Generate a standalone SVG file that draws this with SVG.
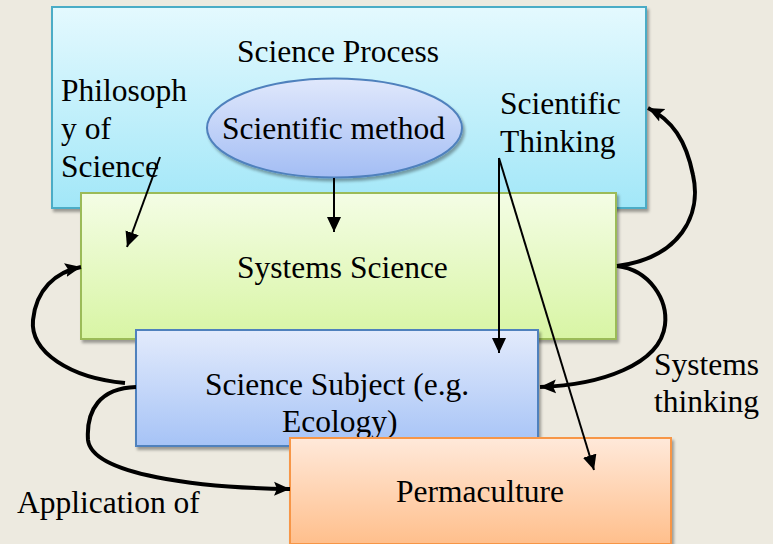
<svg xmlns="http://www.w3.org/2000/svg" width="773" height="544" viewBox="0 0 773 544">
  <defs>
    <linearGradient id="gProcess" x1="0" y1="0" x2="0" y2="1">
      <stop offset="0" stop-color="#E4F9FE"/>
      <stop offset="1" stop-color="#A2E7F8"/>
    </linearGradient>
    <linearGradient id="gMethod" x1="0" y1="0" x2="0" y2="1">
      <stop offset="0" stop-color="#E0E8FC"/>
      <stop offset="1" stop-color="#A3BDF4"/>
    </linearGradient>
    <linearGradient id="gSystems" x1="0" y1="0" x2="0" y2="1">
      <stop offset="0" stop-color="#F4FDE5"/>
      <stop offset="1" stop-color="#D8F5A4"/>
    </linearGradient>
    <linearGradient id="gSubject" x1="0" y1="0" x2="0" y2="1">
      <stop offset="0" stop-color="#E3EBFC"/>
      <stop offset="1" stop-color="#A6C3F6"/>
    </linearGradient>
    <linearGradient id="gPerma" x1="0" y1="0" x2="0" y2="1">
      <stop offset="0" stop-color="#FFE9DA"/>
      <stop offset="1" stop-color="#FFBF8C"/>
    </linearGradient>
    <filter id="shadow" x="-5%" y="-5%" width="115%" height="120%">
      <feGaussianBlur in="SourceAlpha" stdDeviation="1.5"/>
      <feOffset dx="2" dy="3" result="o"/>
      <feComponentTransfer><feFuncA type="linear" slope="0.35"/></feComponentTransfer>
      <feMerge><feMergeNode/><feMergeNode in="SourceGraphic"/></feMerge>
    </filter>
    <marker id="thin" markerUnits="userSpaceOnUse" markerWidth="16" markerHeight="16" viewBox="0 0 16 16" refX="15" refY="8" orient="auto">
      <path d="M0,1 L15,8 L0,15 Z" fill="#000"/>
    </marker>
    <marker id="thick" markerUnits="userSpaceOnUse" markerWidth="18" markerHeight="18" viewBox="0 0 18 18" refX="16" refY="9" orient="auto">
      <path d="M0,2 L16,9 L0,16 L3,9 Z" fill="#000"/>
    </marker>
  </defs>
  <style>
    text { font-family: 'Liberation Serif', 'DejaVu Serif', 'Times New Roman', serif; font-size: 31.5px; fill: #000; }
    .thin { fill: none; stroke: #000; stroke-width: 2; marker-end: url(#thin); }
    .thick { fill: none; stroke: #000; stroke-width: 4; marker-end: url(#thick); }
  </style>

  <rect width="773" height="544" fill="#EDEAE0"/>

  <g font-family="Liberation Serif, DejaVu Serif, serif" font-size="31.5">
  <g id="science-process">
    <rect x="52" y="7" width="594" height="201" fill="url(#gProcess)" stroke="#4BACC6" stroke-width="2" filter="url(#shadow)"/>
    <text x="237" y="62">Science Process</text>
  </g>

  <g id="scientific-method">
    <ellipse cx="334.5" cy="128" rx="127.5" ry="49.5" fill="url(#gMethod)" stroke="#4F81BD" stroke-width="2" filter="url(#shadow)"/>
    <text x="222" y="139">Scientific method</text>
  </g>

  <g id="labels-top">
    <text x="61" y="101">Philosoph</text>
    <text x="61" y="139">y of</text>
    <text x="61" y="177">Science</text>
    <text x="500" y="114">Scientific</text>
    <text x="500" y="152">Thinking</text>
  </g>

  <g id="systems-science">
    <rect x="81" y="193" width="535" height="146" fill="url(#gSystems)" stroke="#9BBB59" stroke-width="2" filter="url(#shadow)"/>
    <text x="237" y="278">Systems Science</text>
  </g>

  <g id="science-subject">
    <rect x="136" y="330" width="402" height="116" fill="url(#gSubject)" stroke="#4F81BD" stroke-width="2" filter="url(#shadow)"/>
    <text x="205" y="395">Science Subject (e.g.</text>
    <text x="282" y="432">Ecology)</text>
  </g>

  <g id="permaculture">
    <rect x="290" y="438" width="381" height="106" fill="url(#gPerma)" stroke="#F79646" stroke-width="2" filter="url(#shadow)"/>
    <text x="396" y="502">Permaculture</text>
  </g>

  <g id="labels-bottom">
    <text x="654" y="375">Systems</text>
    <text x="654" y="412">thinking</text>
    <text x="17" y="513">Application of</text>
  </g>
  </g>

  <g id="connectors">
    <path class="thin" d="M160,157 L127,247"/>
    <path class="thin" d="M334,178 L334,232"/>
    <path class="thin" d="M499,158 L499,353"/>
    <path class="thin" d="M499,158 L594,470"/>
    <path class="thick" d="M617,266 C680,258 702,215 693,175 C686,140 672,120 648,108"/>
    <path class="thick" d="M617,266 C650,270 668,300 665,325 C660,365 600,385 540,387"/>
    <path class="thick" d="M125,383 C70,378 30,352 33,320 C36,290 55,272 81,267"/>
    <path class="thick" d="M136,387 C100,388 86,410 88,440 C92,475 200,488 290,489"/>
  </g>
</svg>
